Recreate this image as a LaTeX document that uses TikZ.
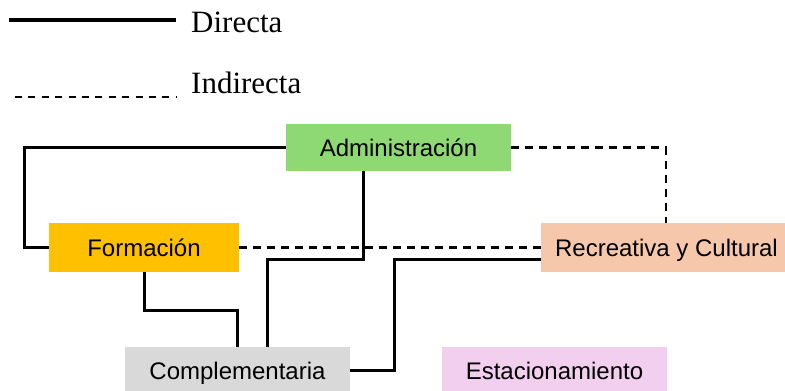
\documentclass[tikz,border=0pt]{standalone}
\usepackage{fontspec}
\setmainfont{Liberation Serif}
\setsansfont{Liberation Sans}
\usepackage{xcolor}
\usepackage{tikz}
\usetikzlibrary{positioning}

\definecolor{adminGreen}{HTML}{8ED973}
\definecolor{formOrange}{HTML}{FFC000}
\definecolor{recrPeach}{HTML}{F7C7AC}
\definecolor{compGray}{HTML}{D9D9D9}
\definecolor{estPink}{HTML}{F2CEEF}

\begin{document}
\begin{tikzpicture}[
    x=1pt, y=-1pt,
    area/.style={rectangle, minimum height=47pt, inner sep=0pt, text height=17pt, text depth=0pt,
        font=\sffamily\fontsize{24}{26}\selectfont},
    legtext/.style={anchor=base west, inner sep=0pt, font=\fontsize{31}{34}\selectfont},
    direct/.style={line width=3pt},
    indirect/.style={line width=2.2pt, dash pattern=on 8pt off 6pt},
]
    \useasboundingbox (0,0) rectangle (785,391);

    % Legend
    \coordinate (ld0) at (9,20);
    \coordinate (ld1) at (176,20);
    \draw[direct, line width=3.6pt] (ld0) -- (ld1);
    \node[legtext] (ldirect) at (191,32) {Directa};
    \coordinate (li0) at (15,97);
    \coordinate (li1) at (176,97);
    \draw[indirect, line width=1.8pt, dash pattern=on 7pt off 6.4pt] (li0) -- (li1);
    \node[legtext] (lindirect) at (191,93) {Indirecta};

    % Areas
    \node[area, fill=adminGreen, minimum width=225pt] (admin) at (398.5,147.5) {Administración};
    \node[area, fill=formOrange, minimum width=190pt, minimum height=49pt] (form) at (144,247.5) {Formación};
    \node[area, fill=recrPeach, minimum width=246pt, minimum height=49pt] (recr) at (664,247.5) {\hspace{5pt}Recreativa y Cultural};
    \node[area, fill=compGray, minimum width=225pt] (comp) at (237.5,370.5) {Complementaria};
    \node[area, fill=estPink, minimum width=225pt] (est) at (554.5,370.5) {Estacionamiento};

    % Direct relations
    \draw[direct] (admin.west) -- ++(-261,0) |- (form.west);
    \draw[direct] ([xshift=-35.5pt]admin.south) -- ++(0,88) -| ([xshift=29.5pt]comp.north);
    \draw[direct] (form.south) -- ++(0,38) -| (comp.north);
    \draw[direct] (comp.east) -- ++(44,0) |- ([yshift=-11.5pt]recr.west);

    % Indirect relations
    \draw[indirect] (admin.east) -| ([xshift=2pt]recr.north);
    \draw[indirect] (form.east) -- (recr.west);
\end{tikzpicture}
\end{document}
